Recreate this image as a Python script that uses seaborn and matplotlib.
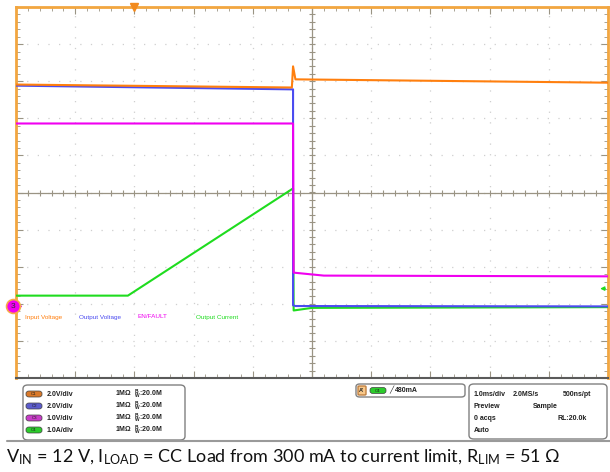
import numpy as np
import pandas as pd
import seaborn as sns
import matplotlib.pyplot as plt
from matplotlib.patches import FancyBboxPatch
from matplotlib.ticker import MultipleLocator

# time relative to the trigger, ms (1.0 ms/div, trigger 3 div left of centre)
t_vin = [-2.0, 2.66, 2.68, 2.72, 8.0]
v_vin = [11.96, 11.80, 12.94, 12.24, 12.06]

t_vout = [-2.0, 2.66, 2.68, 2.68, 2.72, 8.0]
v_vout = [11.90, 11.70, 11.70, 0.06, 0.02, 0.0]

t_en = [-2.0, 2.68, 2.69, 3.2, 8.0]
v_en = [4.93, 4.93, 0.91, 0.83, 0.81]

t_iout = [-2.0, -0.11, 2.68, 2.69, 3.0, 8.0]
v_iout = [0.29, 0.29, 3.18, -0.11, -0.04, -0.02]

channels = ['Input Voltage', 'Output Voltage', 'EN/FAULT', 'Output Current']
scales = [2.0, 2.0, 1.0, 1.0]          # V/div, V/div, V/div, A/div
ground_div = -3.07                      # ground reference position, div
trigger_level = 0.48                    # A, on C4
colors = ['#ff7f0e', '#4b4bf0', '#f000f0', '#1fdc1f']

settings = ['2.0V/div', '2.0V/div', '1.0V/div', '1.0A/div']
pill_colors = ['#d9792a', '#5c5ccc', '#c83cc8', '#2ccc2c']

times = [t_vin, t_vout, t_en, t_iout]
vals = [v_vin, v_vout, v_en, v_iout]
rows = []
for name, sc, tt, vv in zip(channels, scales, times, vals):
    for i, (t, v) in enumerate(zip(tt, vv)):
        rows.append({'time': t, 'div': v / sc + ground_div, 'channel': name, 'idx': i})
df = pd.DataFrame(rows)

sns.set_theme(style='white')
plt.rcParams['font.family'] = ['Liberation Sans', 'DejaVu Sans']
plt.rcParams['mathtext.default'] = 'regular'

W, H = 610, 472
fig = plt.figure(figsize=(W / 100, H / 100), dpi=100)
ax = fig.add_axes([16 / W, 1 - 378 / H, 592 / W, 371 / H])

def fx(x):
    return x / W

def fy(y):
    return 1 - y / H

# graticule
ax.set_xlim(-2, 8)
ax.set_ylim(-5, 5)
ax.xaxis.set_major_locator(MultipleLocator(1))
ax.yaxis.set_major_locator(MultipleLocator(1))
ax.xaxis.set_minor_locator(MultipleLocator(0.2))
ax.yaxis.set_minor_locator(MultipleLocator(0.2))
ax.grid(True, which='major', color='#cfcfcf', linestyle=(0, (1, 7.5)), linewidth=0.9)
ax.tick_params(which='both', direction='in', top=True, right=True, bottom=True, left=True,
               labelbottom=False, labelleft=False, color='#9a9484')
ax.tick_params(which='major', length=5, width=0.8)
ax.tick_params(which='minor', length=3, width=0.6)
for s in ['top', 'left', 'right']:
    ax.spines[s].set_color('#f2a640')
    ax.spines[s].set_linewidth(2)
ax.spines['bottom'].set_color('#5a5a5a')
ax.spines['bottom'].set_linewidth(1.5)

cx = 3.0
ax.axvline(cx, color='#9a9484', lw=0.9, zorder=1)
ax.axhline(0, color='#9a9484', lw=0.9, zorder=1)
ax.plot(np.arange(-2, 8.01, 0.2), np.zeros(51), ls='none', marker='|', ms=5, color='#9a9484', mew=0.8)
ax.plot(np.full(51, cx), np.arange(-5, 5.01, 0.2), ls='none', marker='_', ms=5, color='#9a9484', mew=0.8)

# traces
hue_order = ['Output Current', 'Output Voltage', 'EN/FAULT', 'Input Voltage']
pal = dict(zip(channels, colors))
sns.lineplot(data=df, x='time', y='div', hue='channel', hue_order=hue_order, palette=pal,
             estimator=None, sort=False, units='channel', lw=1.5, legend=False, ax=ax, zorder=3)
ax.set_xlabel('')
ax.set_ylabel('')

# in-screen labels
label_x = [25, 79, 138, 196]
for name, c, x in zip(channels, colors, label_x):
    ax.text((x - 16) / 592, (378 - 317) / 371, name, transform=ax.transAxes, fontsize=4.6,
            color=c, va='center', ha='left', zorder=4,
            bbox=dict(boxstyle='square,pad=0.1', fc='white', ec='none'))

# trigger position marker and level arrow
ax.plot([0], [1], transform=ax.get_xaxis_transform(), marker='v', ms=6, color='#f28a1e',
        clip_on=False, zorder=5)
trig_div = trigger_level / scales[3] + ground_div
ax.annotate('', xy=(0.982, trig_div), xytext=(1.0, trig_div),
            xycoords=ax.get_yaxis_transform(), textcoords=ax.get_yaxis_transform(),
            arrowprops=dict(arrowstyle='-|>', color='#1fdc1f', lw=0.9, mutation_scale=6))

# channel 3 ground marker
ax.annotate('', xy=(0.016, ground_div), xytext=(-0.004, ground_div),
            xycoords=ax.get_yaxis_transform(), textcoords=ax.get_yaxis_transform(),
            arrowprops=dict(arrowstyle='-|>', color='#f000f0', lw=1, mutation_scale=6))
ax.plot([-0.005], [ground_div], transform=ax.get_yaxis_transform(), marker='o', ms=10,
        color='#f000f0', mec='#f8a848', mew=1.2, clip_on=False, zorder=6)
ax.text(-0.005, ground_div, '3', transform=ax.get_yaxis_transform(), fontsize=6,
        color='#303030', ha='center', va='center', zorder=7)

# bottom info panel
def rbox(x0, y0, x1, y1, ec='#808080', fc='white', lw=1, r=0.008):
    p = FancyBboxPatch((fx(x0), fy(y1)), fx(x1 - x0), (y1 - y0) / H,
                       boxstyle=f'round,pad=0,rounding_size={r}', transform=fig.transFigure,
                       ec=ec, fc=fc, lw=lw)
    fig.patches.append(p)

def pill(x0, yc, label, fc):
    p = FancyBboxPatch((fx(x0), fy(yc + 3)), fx(16), 6 / H,
                       boxstyle='round,pad=0,rounding_size=0.005', transform=fig.transFigure,
                       ec='#404040', fc=fc, lw=0.5)
    fig.patches.append(p)
    fig.text(fx(x0 + 8), fy(yc), label, fontsize=3.2, color='#202020', ha='center', va='center')

rbox(23, 385, 185, 440)
row_y = [394, 406, 418, 430]
for i in range(4):
    pill(26, row_y[i], f'C{i + 1}', pill_colors[i])
    fig.text(fx(47), fy(row_y[i]), settings[i], fontsize=5, fontweight='bold', va='center', color='#202020')
    fig.text(fx(115), fy(row_y[i]), r'1M$\Omega$  $^{B}_{W}$:20.0M', fontsize=5, fontweight='bold',
             va='center', color='#202020')

rbox(356, 384, 465, 397, r=0.006)
rbox(358, 386, 366, 395, ec='#c08040', fc='#f8c88a', r=0.002)
fig.text(fx(362), fy(390.5), "A'", fontsize=4, fontweight='bold', ha='center', va='center')
pill(370, 390.5, 'C4', pill_colors[3])
fig.text(fx(389), fy(390.5), '\u2571', fontsize=5, va='center', color='#202020')
fig.text(fx(395), fy(390.5), f'{trigger_level * 1000:.0f}mA', fontsize=5, fontweight='bold',
         va='center', color='#202020')

rbox(469, 384, 607, 439)
info = [(474, 394, '1.0ms/div'), (513, 394, '2.0MS/s'), (563, 394, '500ns/pt'),
        (474, 406, 'Preview'), (533, 406, 'Sample'),
        (474, 418, '0 acqs'), (557, 418, 'RL:20.0k'),
        (474, 430, 'Auto')]
for x, y, s in info:
    fig.text(fx(x), fy(y), s, fontsize=5, fontweight='bold', va='center', color='#202020')

fig.add_artist(plt.Line2D([fx(7), fx(610)], [fy(441), fy(441)], transform=fig.transFigure,
                          color='#9a9a9a', lw=1.5))

fig.text(fx(6), fy(457),
         r'V$_{IN}$ = 12 V, I$_{LOAD}$ = CC Load from 300 mA to current limit, R$_{LIM}$ = 51 $\Omega$',
         fontsize=13, family='Lato', va='center', color='#111111')

fig.savefig('out.png', dpi=100, facecolor='white')
